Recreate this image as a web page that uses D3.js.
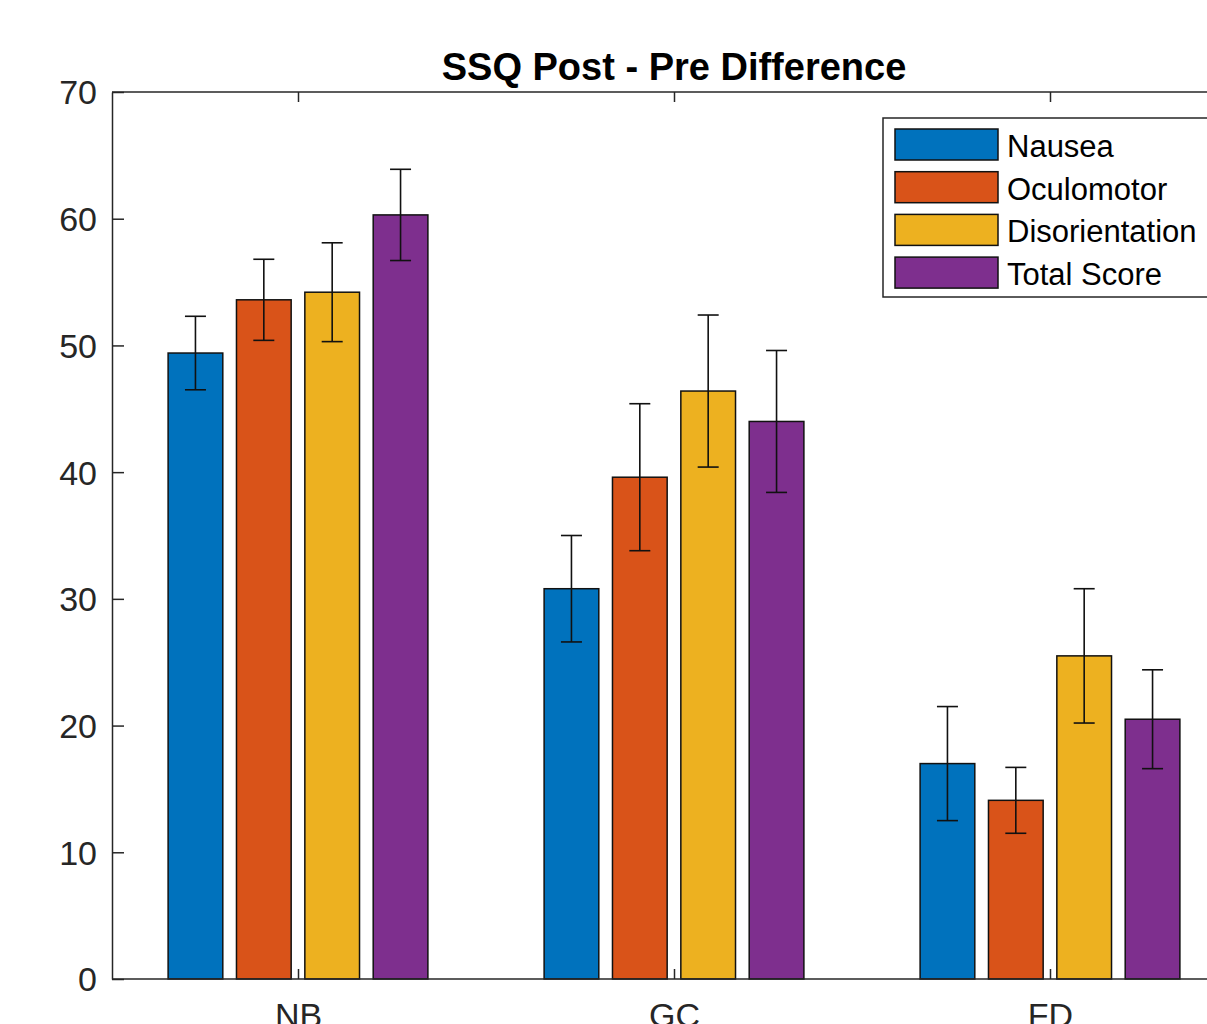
<!DOCTYPE html>
<html>
<head>
<meta charset="utf-8">
<script src="https://cdn.jsdelivr.net/npm/d3@7"></script>
<style>
  body { margin: 0; background: #fff; }
  svg { display: block; font-family: "Liberation Sans", Arial, sans-serif; }
</style>
</head>
<body>
<div id="chart"></div>
<script>
// data
var categories = ["NB", "GC", "FD"];
var seriesNames = ["Nausea", "Oculomotor", "Disorientation", "Total Score"];
var colors = ["#0072BD", "#D95319", "#EDB120", "#7E2F8E"];

var nausea = [49.4, 30.8, 17.0];
var oculomotor = [53.6, 39.6, 14.1];
var disorientation = [54.2, 46.4, 25.5];
var totalScore = [60.3, 44.0, 20.5];

var nauseaErr = [2.9, 4.2, 4.5];
var oculomotorErr = [3.2, 5.8, 2.6];
var disorientationErr = [3.9, 6.0, 5.3];
var totalScoreErr = [3.6, 5.6, 3.9];

var yTicks = [0, 10, 20, 30, 40, 50, 60, 70];

var means = [nausea, oculomotor, disorientation, totalScore];
var errs = [nauseaErr, oculomotorErr, disorientationErr, totalScoreErr];

var svgWidth = 1207, svgHeight = 1024;
var plotLeft = 112, plotTop = 92, plotBottom = 979;

var svg = d3.select("#chart").append("svg")
  .attr("width", svgWidth)
  .attr("height", svgHeight);

// category positions 1..3; axis runs past the right edge of the picture
var x = d3.scaleLinear().domain([1, 3]).range([298, 1050]);
var y = d3.scaleLinear().domain([0, 70]).range([plotBottom, plotTop]);

// matlab grouped bar layout
var nSeries = seriesNames.length;
var groupWidth = Math.min(0.8, nSeries / (nSeries + 1.5));
var barStep = groupWidth / nSeries;
var barWidth = barStep * 0.8;

var rows = [];
means.forEach(function(vals, s) {
  vals.forEach(function(v, c) {
    rows.push({ s: s, c: c, v: v, e: errs[s][c], xc: (c + 1) + (s - (nSeries - 1) / 2) * barStep });
  });
});

var axisColor = "#262626";

// bars
svg.append("g").selectAll("rect")
  .data(rows)
  .enter()
  .append("rect")
  .attr("x", d => x(d.xc - barWidth / 2))
  .attr("width", d => x(d.xc + barWidth / 2) - x(d.xc - barWidth / 2))
  .attr("y", d => y(d.v))
  .attr("height", d => y(0) - y(d.v))
  .attr("fill", d => colors[d.s])
  .attr("stroke", "#111")
  .attr("stroke-width", 1.5);

// error bars
var capHalf = 10.5;
var eb = svg.append("g").attr("stroke", "#111").attr("stroke-width", 1.6);
rows.forEach(function(d) {
  var cx = x(d.xc);
  eb.append("line").attr("x1", cx).attr("x2", cx).attr("y1", y(d.v + d.e)).attr("y2", y(d.v - d.e));
  eb.append("line").attr("x1", cx - capHalf).attr("x2", cx + capHalf).attr("y1", y(d.v + d.e)).attr("y2", y(d.v + d.e));
  eb.append("line").attr("x1", cx - capHalf).attr("x2", cx + capHalf).attr("y1", y(d.v - d.e)).attr("y2", y(d.v - d.e));
});

// axes
var yAxis = d3.axisLeft(y).tickValues(yTicks).tickSizeInner(-12).tickSizeOuter(0).tickPadding(15);
var gy = svg.append("g").attr("transform", `translate(${plotLeft},0)`).call(yAxis);
gy.select(".domain").attr("stroke", axisColor).attr("stroke-width", 1.5);
gy.selectAll(".tick line").attr("stroke", axisColor).attr("stroke-width", 1.5);
gy.selectAll(".tick text").attr("fill", axisColor).style("font-size", "34px").attr("dy", "0.35em");

var xAxis = d3.axisBottom(x).tickValues([1, 2, 3]).tickFormat((d, i) => categories[i])
  .tickSizeInner(-10).tickSizeOuter(0).tickPadding(24);
var gx = svg.append("g").attr("transform", `translate(0,${plotBottom})`).call(xAxis);
gx.select(".domain").remove();
gx.selectAll(".tick line").attr("stroke", axisColor).attr("stroke-width", 1.5);
gx.selectAll(".tick text").attr("fill", axisColor).style("font-size", "34px");

var xTop = d3.axisTop(x).tickValues([1, 2, 3]).tickFormat("").tickSizeInner(-10).tickSizeOuter(0);
var gt = svg.append("g").attr("transform", `translate(0,${plotTop})`).call(xTop);
gt.select(".domain").remove();
gt.selectAll(".tick line").attr("stroke", axisColor).attr("stroke-width", 1.5);

// box edges along bottom and top
svg.append("line").attr("x1", plotLeft).attr("x2", svgWidth + 40).attr("y1", plotBottom).attr("y2", plotBottom)
  .attr("stroke", axisColor).attr("stroke-width", 1.5);
svg.append("line").attr("x1", plotLeft).attr("x2", svgWidth + 40).attr("y1", plotTop).attr("y2", plotTop)
  .attr("stroke", axisColor).attr("stroke-width", 1.5);

// title
svg.append("text")
  .attr("x", x(2))
  .attr("y", 80)
  .attr("text-anchor", "middle")
  .style("font-size", "38px")
  .style("font-weight", "bold")
  .attr("fill", "#000")
  .text("SSQ Post - Pre Difference");

// legend
var legend = svg.append("g");
legend.append("rect")
  .attr("x", 883).attr("y", 118)
  .attr("width", 340).attr("height", 179)
  .attr("fill", "#fff").attr("stroke", axisColor).attr("stroke-width", 1.5);

var item = legend.selectAll(".item")
  .data(seriesNames)
  .enter()
  .append("g")
  .attr("transform", (d, i) => `translate(0,${129 + i * 42.7})`);
item.append("rect")
  .attr("x", 895).attr("width", 103).attr("height", 31)
  .attr("fill", (d, i) => colors[i]).attr("stroke", "#111").attr("stroke-width", 1.5);
item.append("text")
  .attr("x", 1007).attr("y", 17).attr("dy", "0.35em")
  .style("font-size", "31px").attr("fill", "#000")
  .text(d => d);
</script>
</body>
</html>
